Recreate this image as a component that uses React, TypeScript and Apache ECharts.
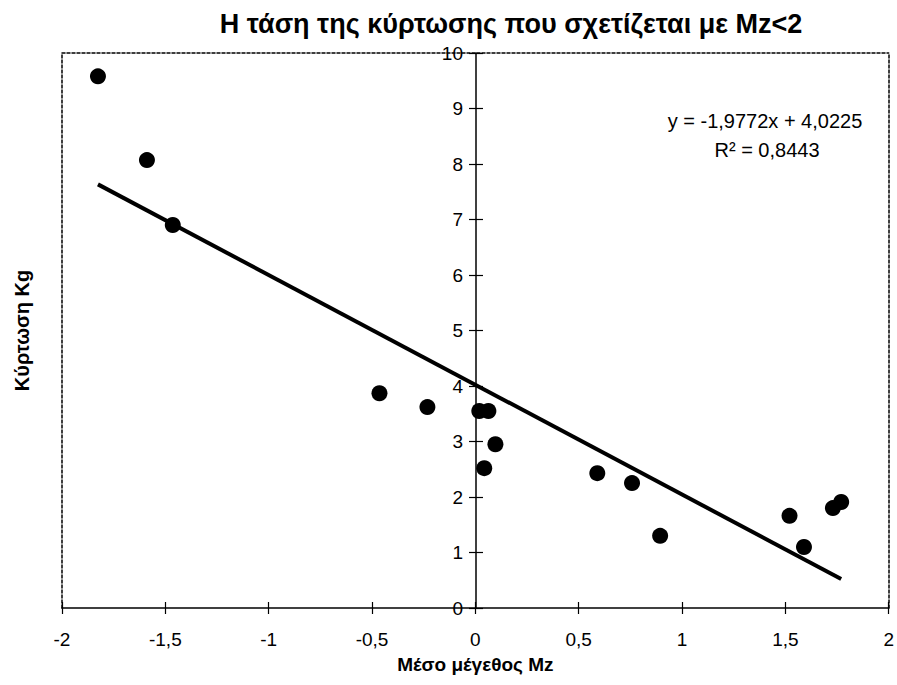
import React, { useEffect, useRef } from "react";
import * as echarts from "echarts";

const titleText = "Η τάση της κύρτωσης που σχετίζεται με Mz<2";
const xAxisName = "Μέσο μέγεθος Mz";
const yAxisName = "Κύρτωση Kg";
const equationText = "y = -1,9772x + 4,0225";
const r2Text = "R² = 0,8443";

const mzValues = [-1.826, -1.589, -1.464, -0.464, -0.232, 0.019, 0.063, 0.097, 0.043, 0.59, 0.758, 0.894, 1.52, 1.59, 1.73, 1.77];
const kgValues = [9.58, 8.07, 6.9, 3.87, 3.62, 3.55, 3.55, 2.95, 2.52, 2.43, 2.25, 1.3, 1.66, 1.1, 1.8, 1.91];

const trendSlope = -1.9772;
const trendIntercept = 4.0225;

const xMin = -2;
const xMax = 2;
const xInterval = 0.5;
const yMin = 0;
const yMax = 10;
const yInterval = 1;

const fmt = (v: number) => String(v).replace(".", ",");

export default function App() {
  const ref = useRef<HTMLDivElement>(null);
  useEffect(() => {
    if (!ref.current) return;
    const chart = echarts.init(ref.current, null, { renderer: "svg" });
    const W = 897;
    const gridLeft = 62;
    const gridRight = 7;
    const plotW = W - gridLeft - gridRight;
    const yAxisOffset = -plotW * (0 - xMin) / (xMax - xMin);
    const points = mzValues.map((x, i) => [x, kgValues[i]]);
    const tx0 = Math.min(...mzValues);
    const tx1 = Math.max(...mzValues);
    const trend = [
      [tx0, trendSlope * tx0 + trendIntercept],
      [tx1, trendSlope * tx1 + trendIntercept],
    ];
    const font = "'Liberation Sans', Arial, sans-serif";
    const dashedLine = { show: true, lineStyle: { color: "#000", width: 1.5, type: [3, 2] as any } };
    chart.setOption({
      animation: false,
      backgroundColor: "#fff",
      textStyle: { fontFamily: font, color: "#000" },
      title: {
        text: titleText,
        left: 506,
        top: 5,
        textAlign: "center",
        textStyle: { fontFamily: font, fontSize: 27, fontWeight: "bold", color: "#000" },
      },
      grid: { left: gridLeft, right: gridRight, top: 53, bottom: 77, containLabel: false },
      xAxis: [
        {
          type: "value",
          min: xMin,
          max: xMax,
          interval: xInterval,
          position: "bottom",
          axisLine: { show: true, onZero: false, lineStyle: { color: "#000", width: 1.5 } },
          axisTick: { show: true, length: 6, lineStyle: { color: "#000", width: 1.2 } },
          axisLabel: { show: true, margin: 22, fontSize: 19, color: "#000", fontFamily: font, formatter: fmt },
          splitLine: { show: false },
          name: xAxisName,
          nameLocation: "middle",
          nameGap: 47,
          nameTextStyle: { fontSize: 19, fontWeight: "bold", color: "#000", fontFamily: font },
        },
        {
          type: "value",
          min: xMin,
          max: xMax,
          interval: xInterval,
          position: "bottom",
          axisLine: { show: false, onZero: false },
          axisTick: { show: true, inside: true, length: 6, lineStyle: { color: "#000", width: 1.2 } },
          axisLabel: { show: false },
          splitLine: { show: false },
        },
        {
          type: "value",
          min: xMin,
          max: xMax,
          position: "top",
          axisLine: { ...dashedLine, onZero: false },
          axisTick: { show: false },
          axisLabel: { show: false },
          splitLine: { show: false },
        },
      ],
      yAxis: [
        {
          type: "value",
          min: yMin,
          max: yMax,
          interval: yInterval,
          position: "left",
          offset: yAxisOffset,
          axisLine: { show: true, onZero: false, lineStyle: { color: "#000", width: 1.5 } },
          axisTick: { show: true, length: 7, lineStyle: { color: "#000", width: 1.2 } },
          axisLabel: { show: true, margin: 13, fontSize: 19, color: "#000", fontFamily: font, formatter: fmt },
          splitLine: { show: false },
        },
        {
          type: "value",
          min: yMin,
          max: yMax,
          interval: yInterval,
          position: "left",
          offset: yAxisOffset,
          axisLine: { show: false, onZero: false },
          axisTick: { show: true, inside: true, length: 7, lineStyle: { color: "#000", width: 1.2 } },
          axisLabel: { show: false },
          splitLine: { show: false },
        },
        {
          type: "value",
          min: yMin,
          max: yMax,
          position: "left",
          axisLine: { ...dashedLine, onZero: false },
          axisTick: { show: false },
          axisLabel: { show: false },
          splitLine: { show: false },
          name: yAxisName,
          nameLocation: "middle",
          nameGap: 30,
          nameTextStyle: { fontSize: 20, fontWeight: "bold", color: "#000", fontFamily: font },
        },
        {
          type: "value",
          min: yMin,
          max: yMax,
          position: "right",
          axisLine: { ...dashedLine, onZero: false },
          axisTick: { show: false },
          axisLabel: { show: false },
          splitLine: { show: false },
        },
      ],
      graphic: [
        {
          type: "text",
          x: 765,
          y: 121,
          style: { text: equationText, fontSize: 20, fontFamily: font, fill: "#000", align: "center", verticalAlign: "middle" },
        },
        {
          type: "text",
          x: 767,
          y: 150,
          style: { text: r2Text, fontSize: 20, fontFamily: font, fill: "#000", align: "center", verticalAlign: "middle" },
        },
      ],
      series: [
        {
          type: "line",
          data: trend,
          symbol: "none",
          lineStyle: { color: "#000", width: 4 },
          z: 2,
        },
        {
          type: "scatter",
          data: points,
          symbol: "circle",
          symbolSize: 16,
          itemStyle: { color: "#000", opacity: 1 },
          z: 3,
        },
      ],
    });
    return () => chart.dispose();
  }, []);
  return <div ref={ref} style={{ width: 897, height: 685, position: "absolute", left: 0, top: 0 }} />;
}
